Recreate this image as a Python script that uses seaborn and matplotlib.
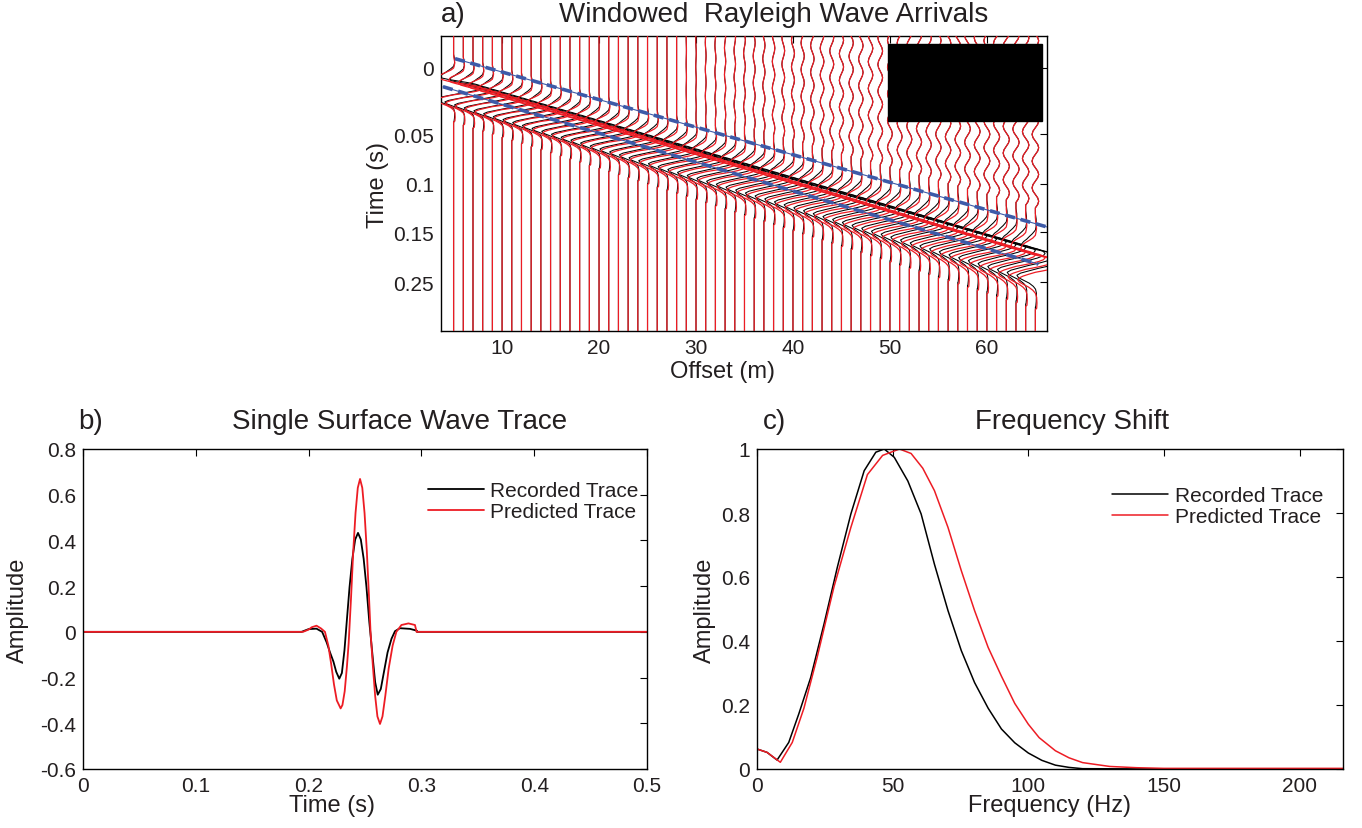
import numpy as np
import pandas as pd
import matplotlib
matplotlib.use("Agg")
import matplotlib.pyplot as plt
from matplotlib.patches import Rectangle
import seaborn as sns

# ---------------- data ----------------
# Panel b: single trace (time in s, amplitude)
rec_time = [0, 0.1937, 0.200, 0.207, 0.212, 0.216, 0.219, 0.222, 0.2245, 0.2272, 0.2295,
            0.2318, 0.2338, 0.2363, 0.2388, 0.2413, 0.2438, 0.2463, 0.2488, 0.2513, 0.2538,
            0.2570, 0.2590, 0.2613, 0.2640, 0.2670, 0.2700, 0.2735, 0.2766, 0.2810, 0.2900,
            0.2960, 0.2961, 0.5]
rec_amp = [0, 0, 0.012, 0.014, 0.0, -0.046, -0.09, -0.13, -0.175, -0.205, -0.18,
           -0.08, 0.044, 0.196, 0.32, 0.404, 0.433, 0.404, 0.32, 0.196, 0.044,
           -0.12, -0.22, -0.275, -0.25, -0.17, -0.09, -0.03, 0.003, 0.016, 0.013,
           0.005, 0, 0]
pred_time = [0, 0.1950, 0.2000, 0.2027, 0.2070, 0.2110, 0.2145, 0.2175, 0.2200, 0.2225,
             0.2250, 0.2284, 0.2300, 0.2320, 0.2340, 0.2355, 0.2376, 0.2396, 0.2416, 0.2436,
             0.2456, 0.2476, 0.2496, 0.2516, 0.2536, 0.2549, 0.2570, 0.2590, 0.2610, 0.2633,
             0.2655, 0.2680, 0.2710, 0.2745, 0.2778, 0.2823, 0.2885, 0.2943, 0.2957, 0.5]
pred_amp = [0, 0, 0.01, 0.02, 0.027, 0.015, 0.0, -0.06, -0.14, -0.23,
            -0.30, -0.335, -0.32, -0.26, -0.15, -0.05, 0.147, 0.355, 0.52, 0.63,
            0.669, 0.63, 0.52, 0.355, 0.147, 0.0, -0.15, -0.28, -0.37, -0.403,
            -0.37, -0.28, -0.16, -0.06, 0.0, 0.03, 0.037, 0.03, 0.0, 0]

# Panel c: amplitude spectra
rec_freq = [0, 3.7, 7.4, 11.7, 15.4, 19.8, 24.7, 29.6, 34.6, 39.5, 43.8, 46.9, 50.6, 55.6,
            60.5, 65.4, 70.4, 75.3, 80.2, 85.2, 90.1, 95, 100, 105, 110, 115, 120, 150, 216]
rec_spec = [0.0625, 0.052, 0.028, 0.083, 0.172, 0.286, 0.453, 0.63, 0.797, 0.932, 0.99, 1.0,
            0.974, 0.90, 0.797, 0.64, 0.495, 0.37, 0.27, 0.19, 0.125, 0.082, 0.05, 0.027,
            0.012, 0.005, 0.001, 0.0, 0.0]
pred_freq = [0, 3.7, 8.6, 13.0, 17.3, 22.2, 28.4, 34.6, 40.7, 46.3, 52.5, 56.8, 61.1, 65.4,
             70.4, 75.3, 80.2, 85.2, 90.1, 95, 100, 104, 110, 115, 120, 130, 140, 150, 216]
pred_spec = [0.0625, 0.052, 0.021, 0.083, 0.19, 0.35, 0.57, 0.755, 0.92, 0.98, 1.0, 0.986,
             0.94, 0.87, 0.755, 0.62, 0.495, 0.38, 0.29, 0.205, 0.14, 0.098, 0.057, 0.035,
             0.02, 0.008, 0.004, 0.002, 0.002]

# Panel a: receiver offsets (m) and picked window / moveout (display time units)
offsets = list(range(5, 66))
pick_offset = [3.9, 66.2]
win_top_pick = [-0.0261, 0.1439]       # upper window edge at pick_offset
win_bot_pick = [0.0022, 0.1834]        # lower window edge at pick_offset
pred_delay = [0.0, 0.003]              # predicted arrival lag at pick_offset
win_top_off = [5.15, 66.2]
win_top_t = [-0.0261, 0.1439]
win_bot_off = [3.9, 65.3]
win_bot_t = [0.0022, 0.1814]
# weak earlier arrivals visible on the far traces
pre_cycle = [0, 0.7, 1, 0.7, 0, -0.7, -1, -0.7]
pre_period = 0.027
pre_amp_off = [28, 45, 66]
pre_amp_val = [0.0, 0.22, 0.35]

a_ticks = [-0.017, 0.0503, 0.1, 0.149, 0.2]
a_ticklabels = ['0', '0.05', '0.1', '0.15', '0.25']
b_xticks = [0, 0.1, 0.2, 0.3, 0.4, 0.5]
b_xticklabels = ['0', '0.1', '0.2', '0.3', '0.4', '0.5']
b_yticks = [-0.6, -0.4, -0.2, 0, 0.2, 0.4, 0.6, 0.8]
b_yticklabels = ['-0.6', '-0.4', '-0.2', '0', '0.2', '0.4', '0.6', '0.8']
c_xticks = [0, 50, 100, 150, 200]
c_yticks = [0, 0.2, 0.4, 0.6, 0.8, 1.0]
c_yticklabels = ['0', '0.2', '0.4', '0.6', '0.8', '1']

# ---------------- style ----------------
sns.set_theme(style="white")
plt.rcParams['font.family'] = ['Liberation Sans', 'DejaVu Sans']
plt.rcParams['axes.unicode_minus'] = False
TXT = '#231f20'
RED = '#ed1c24'
BLUE = '#3d5aa8'

W, H = 1362, 829
fig = plt.figure(figsize=(W / 100, H / 100), dpi=100)


def rect(l, t, r, b):
    return [l / W, 1 - b / H, (r - l) / W, (b - t) / H]


ax_a = fig.add_axes(rect(441, 37, 1047, 332))
ax_b = fig.add_axes(rect(83, 450, 647, 770))
ax_c = fig.add_axes(rect(757, 450, 1343, 770))

for ax in (ax_a, ax_b, ax_c):
    for s in ax.spines.values():
        s.set_color('black')
        s.set_linewidth(1.0)
    ax.tick_params(direction='in', length=5, width=0.8, top=True, right=True,
                   labelsize=15, colors='black', labelcolor=TXT, pad=5)

# ---------------- panel a: wiggle traces ----------------
ylim_a = (0.249, -0.049)
rt = np.array(rec_time[1:-1]); ra = np.array(rec_amp[1:-1])
pt = np.array(pred_time[1:-1]); pa = np.array(pred_amp[1:-1])
tau_on, tau_end = 0.205, 0.2475
gain = 3.0
cyc = np.array(pre_cycle)
for off in offsets:
    t_top = np.interp(off, pick_offset, win_top_pick)
    t_bot = np.interp(off, pick_offset, win_bot_pick)
    scale = (t_bot - t_top) / (tau_end - tau_on)
    pamp = np.interp(off, pre_amp_off, pre_amp_val)
    # precursor samples from the top of the panel to the window onset
    n_cyc = int((t_top - ylim_a[1]) / pre_period) + 1
    pre_t = t_top - 0.016 - pre_period * (np.arange(n_cyc * len(cyc))[::-1] / len(cyc))
    pre_x = np.tile(cyc, n_cyc)[::-1] * pamp
    keep = pre_t >= ylim_a[1] - 0.01
    pre_t, pre_x = pre_t[keep], pre_x[keep]
    for tt, aa, col, z, dl, lw in ((rt, ra, 'black', 2, 0.0, 0.75),
                                   (pt, pa, RED, 3, np.interp(off, pick_offset, pred_delay), 0.9)):
        ty = t_top + dl + (tt - tau_on) * scale
        xx = off + gain * aa / np.max(aa)
        y = np.concatenate([pre_t, ty, [ylim_a[0]]])
        x = np.concatenate([off + pre_x, xx, [off]])
        ax_a.plot(x, y, color=col, lw=lw, zorder=z)

for offs, ts_ in ((win_top_off, win_top_t), (win_bot_off, win_bot_t)):
    ax_a.plot(offs, ts_, color=BLUE, lw=0.8, zorder=4)
    ax_a.plot(offs, ts_, color=BLUE, lw=2.6, dashes=(2.8, 1.6), zorder=4)

ax_a.add_patch(Rectangle((0.7376, 0.713), 0.9917 - 0.7376, 0.973 - 0.713,
                         transform=ax_a.transAxes, color='black', zorder=10))
ax_a.set_xlim(3.7, 66.2)
ax_a.set_ylim(*ylim_a)
ax_a.set_xticks([10, 20, 30, 40, 50, 60])
ax_a.set_yticks(a_ticks)
ax_a.set_yticklabels(a_ticklabels)
ax_a.set_xlabel('Offset (m)', fontsize=17, color=TXT, va='center')
ax_a.xaxis.set_label_coords(0.464, -0.136)
ax_a.set_ylabel('Time (s)', fontsize=17, color=TXT, va='center')
ax_a.yaxis.set_label_coords(-0.104, 0.498)

# ---------------- panel b ----------------
df_b = pd.concat([
    pd.DataFrame({'t': rec_time, 'amp': rec_amp, 'Trace': 'Recorded Trace'}),
    pd.DataFrame({'t': pred_time, 'amp': pred_amp, 'Trace': 'Predicted Trace'}),
])
sns.lineplot(data=df_b, x='t', y='amp', hue='Trace', estimator=None, sort=False,
             palette={'Recorded Trace': 'black', 'Predicted Trace': RED},
             linewidth=1.3, ax=ax_b)
ax_b.set_xlim(0, 0.5)
ax_b.set_ylim(-0.6, 0.8)
ax_b.set_xticks(b_xticks); ax_b.set_xticklabels(b_xticklabels)
ax_b.set_yticks(b_yticks); ax_b.set_yticklabels(b_yticklabels)
ax_b.set_xlabel('Time (s)', fontsize=17, color=TXT, va='center')
ax_b.xaxis.set_label_coords(0.441, -0.112)
ax_b.set_ylabel('Amplitude', fontsize=17, color=TXT, va='center')
ax_b.yaxis.set_label_coords(-0.115, 0.5)
ax_b.legend(loc='upper right', bbox_to_anchor=(1.0, 0.925), frameon=False, fontsize=15,
            handlelength=2.7, handletextpad=0.3, labelspacing=0.1, borderaxespad=0,
            labelcolor=TXT)

# ---------------- panel c ----------------
df_c = pd.concat([
    pd.DataFrame({'f': rec_freq, 'amp': rec_spec, 'Trace': 'Recorded Trace'}),
    pd.DataFrame({'f': pred_freq, 'amp': pred_spec, 'Trace': 'Predicted Trace'}),
])
sns.lineplot(data=df_c, x='f', y='amp', hue='Trace', estimator=None, sort=False,
             palette={'Recorded Trace': 'black', 'Predicted Trace': RED},
             linewidth=1.1, ax=ax_c)
ax_c.set_xlim(0, 216)
ax_c.set_ylim(0, 1)
ax_c.set_xticks(c_xticks)
ax_c.set_yticks(c_yticks); ax_c.set_yticklabels(c_yticklabels)
ax_c.set_xlabel('Frequency (Hz)', fontsize=17, color=TXT, va='center')
ax_c.xaxis.set_label_coords(0.5, -0.112)
ax_c.set_ylabel('Amplitude', fontsize=17, color=TXT, va='center')
ax_c.yaxis.set_label_coords(-0.089, 0.5)
ax_c.legend(loc='upper right', bbox_to_anchor=(0.98, 0.91), frameon=False, fontsize=15,
            handlelength=2.7, handletextpad=0.3, labelspacing=0.1, borderaxespad=0,
            labelcolor=TXT)

# ---------------- titles ----------------
def ftext(x, y, s, **kw):
    fig.text(x / W, 1 - y / H, s, ha='center', va='center', color=TXT, **kw)

ftext(453, 15, 'a)', fontsize=20)
ftext(774, 15, 'Windowed  Rayleigh Wave Arrivals', fontsize=20)
ftext(91, 422, 'b)', fontsize=20)
ftext(400, 422, 'Single Surface Wave Trace', fontsize=20)
ftext(774, 422, 'c)', fontsize=20)
ftext(1072, 422, 'Frequency Shift', fontsize=20)

fig.savefig('out.png', dpi=100)
